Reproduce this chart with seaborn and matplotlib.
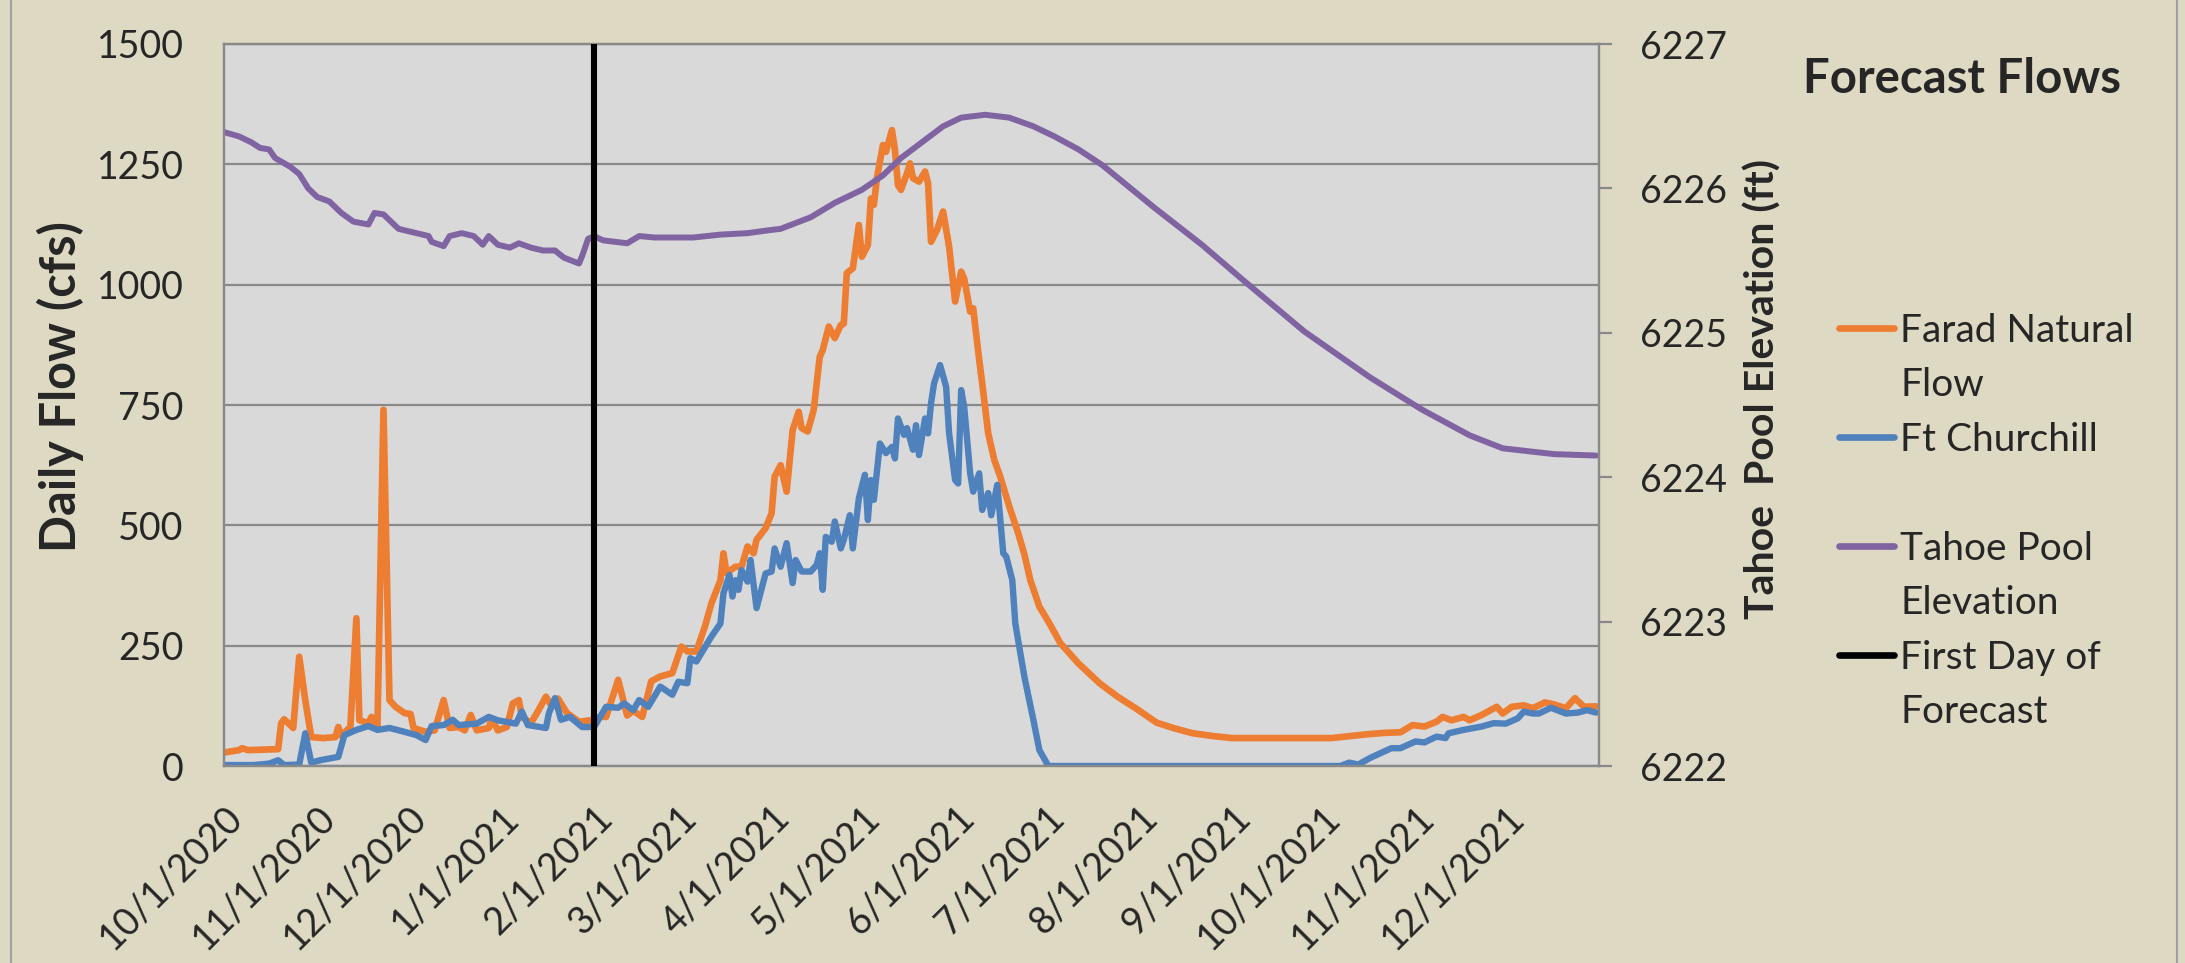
import matplotlib
matplotlib.use("Agg")
import matplotlib.pyplot as plt
from matplotlib.lines import Line2D
import seaborn as sns
import pandas as pd

# ----------------------------
# Data (x = days after 10/1/2020)
# ----------------------------
start = "2020-10-01"

farad_days = [0, 5, 6, 8, 18, 19, 20, 23, 25, 27, 29, 33, 37, 38, 39, 42, 44, 45, 48, 49,
              51, 53, 55, 57, 60, 62, 63, 67, 70, 73, 75, 78, 80, 82, 84, 88, 89, 91, 94, 96,
              98, 99, 102, 104, 107, 109, 111, 113, 114, 118, 122, 125, 127, 131, 134, 136, 139, 142, 145, 149,
              152, 154, 157, 160, 162, 165, 166, 167, 170, 172, 174, 176, 177, 180, 182, 183, 185, 187, 189, 191,
              192, 194, 196, 198, 199, 201, 203, 205, 206, 207, 209, 211, 212, 214, 215, 216, 217, 219, 220, 222,
              223, 224, 225, 227, 228, 229, 231, 233, 234, 235, 237, 239, 241, 243, 245, 246, 248, 249, 251, 252,
              254, 256, 258, 261, 264, 266, 268, 271, 274, 278, 284, 291, 297, 303, 310, 316, 322, 329, 335, 348,
              368, 374, 380, 386, 391, 395, 399, 403, 405, 408, 412, 414, 418, 423, 425, 428, 432, 435, 439, 442,
              446, 449, 452, 456]
farad_cfs = [28, 33, 37, 33, 35, 89, 97, 79, 227, 137, 60, 58, 60, 81, 63, 81, 307, 95, 89, 102,
             81, 740, 137, 123, 110, 108, 79, 71, 74, 137, 79, 81, 74, 106, 74, 79, 99, 74, 81, 130,
             137, 102, 89, 110, 144, 123, 140, 120, 110, 92, 95, 102, 102, 179, 105, 115, 102, 176, 186, 193,
             248, 238, 238, 293, 338, 386, 442, 401, 414, 414, 456, 442, 470, 494, 525, 601, 625, 570, 698, 736,
             702, 695, 740, 850, 864, 913, 889, 916, 919, 1024, 1034, 1124, 1058, 1082, 1179, 1166, 1221, 1290, 1276, 1321,
             1280, 1207, 1197, 1231, 1252, 1221, 1214, 1235, 1211, 1089, 1114, 1152, 1079, 965, 1027, 1013, 944, 951, 844, 795,
             691, 636, 601, 539, 483, 440, 386, 331, 300, 255, 213, 172, 144, 120, 90, 78, 68, 62, 58, 58,
             58, 62, 66, 69, 70, 85, 82, 92, 102, 95, 102, 95, 106, 123, 109, 123, 126, 120, 132, 128,
             120, 141, 123, 124]

church_days = [0, 10, 15, 18, 20, 25, 27, 29, 32, 38, 40, 44, 48, 51, 55, 60, 64, 67, 69, 73,
               76, 78, 84, 88, 91, 97, 99, 101, 107, 108, 110, 112, 115, 119, 123, 127, 131, 133, 136, 138,
               141, 145, 149, 151, 154, 155, 157, 160, 162, 165, 166, 168, 169, 170, 171, 172, 174, 175, 177, 180,
               182, 183, 185, 187, 189, 190, 192, 195, 197, 198, 199, 200, 202, 203, 205, 206, 208, 209, 211, 213,
               214, 215, 216, 218, 220, 222, 223, 224, 226, 227, 229, 230, 231, 233, 234, 235, 236, 238, 240, 241,
               243, 244, 245, 246, 248, 249, 251, 252, 254, 255, 257, 259, 260, 262, 263, 266, 269, 271, 274, 371,
               374, 377, 381, 388, 391, 396, 399, 403, 406, 407, 412, 418, 422, 426, 430, 432, 435, 437, 441, 446,
               450, 453, 456]
church_cfs = [2, 2, 5, 12, 2, 3, 68, 7, 12, 19, 64, 75, 83, 75, 79, 71, 64, 54, 83, 85,
              96, 85, 88, 102, 95, 88, 113, 85, 79, 110, 141, 96, 102, 81, 81, 123, 121, 130, 116, 137,
              123, 165, 148, 175, 172, 224, 217, 248, 269, 296, 359, 397, 352, 386, 366, 407, 383, 428, 328, 400,
              404, 452, 414, 463, 380, 428, 404, 404, 418, 442, 366, 476, 466, 508, 452, 470, 521, 452, 556, 605,
              511, 594, 553, 670, 650, 663, 639, 722, 688, 702, 657, 708, 646, 722, 691, 754, 795, 833, 788, 691,
              594, 587, 781, 747, 608, 570, 608, 532, 567, 521, 584, 442, 435, 386, 296, 186, 96, 33, 0, 0,
              7, 3, 17, 37, 37, 51, 49, 61, 58, 68, 75, 82, 89, 88, 99, 113, 109, 109, 121, 109,
              111, 116, 111]

tahoe_days = [0, 5, 9, 12, 15, 17, 22, 25, 28, 31, 35, 39, 43, 48, 50, 53, 58, 64, 68, 69,
              73, 75, 79, 83, 86, 88, 91, 95, 98, 102, 106, 110, 113, 118, 119, 121, 123, 126, 130, 134,
              138, 143, 156, 165, 174, 181, 185, 195, 203, 212, 219, 225, 232, 239, 245, 253, 261, 269, 276, 284,
              292, 309, 325, 339, 359, 381, 398, 414, 425, 442, 456]
tahoe_ft = [6226.39, 6226.36, 6226.32, 6226.28, 6226.27, 6226.21, 6226.15, 6226.10, 6226.00, 6225.94,
            6225.91, 6225.83, 6225.77, 6225.75, 6225.83, 6225.82, 6225.72, 6225.69, 6225.67, 6225.63,
            6225.60, 6225.67, 6225.69, 6225.67, 6225.61, 6225.67, 6225.61, 6225.59, 6225.62, 6225.59,
            6225.57, 6225.57, 6225.52, 6225.48, 6225.53, 6225.65, 6225.67, 6225.64, 6225.63, 6225.62,
            6225.67, 6225.66, 6225.66, 6225.68, 6225.69, 6225.71, 6225.72, 6225.80, 6225.90, 6225.99,
            6226.09, 6226.21, 6226.32, 6226.43, 6226.49, 6226.51, 6226.49, 6226.43, 6226.36, 6226.27,
            6226.16, 6225.87, 6225.61, 6225.36, 6225.01, 6224.69, 6224.47, 6224.29, 6224.20, 6224.16,
            6224.15]

forecast_day = "2/1/2021"
tick_labels = ["10/1/2020", "11/1/2020", "12/1/2020", "1/1/2021", "2/1/2021", "3/1/2021",
               "4/1/2021", "5/1/2021", "6/1/2021", "7/1/2021", "8/1/2021", "9/1/2021",
               "10/1/2021", "11/1/2021", "12/1/2021"]
flow_ticks = [0, 250, 500, 750, 1000, 1250, 1500]
elev_ticks = [6222, 6223, 6224, 6225, 6226, 6227]

ORANGE = "#ED7D31"
BLUE = "#4F81BD"
PURPLE = "#8064A2"
GRID = "#898989"


def to_dates(days):
    return pd.Timestamp(start) + pd.to_timedelta(days, unit="D")


farad = pd.DataFrame({"date": to_dates(farad_days), "cfs": farad_cfs})
church = pd.DataFrame({"date": to_dates(church_days), "cfs": church_cfs})
tahoe = pd.DataFrame({"date": to_dates(tahoe_days), "ft": tahoe_ft})

sns.set_theme(style="white")
plt.rcParams["font.family"] = ["Lato", "DejaVu Sans"]

fig = plt.figure(figsize=(21.85, 9.63), dpi=100, facecolor="#DDD9C3")
ax = fig.add_axes([224 / 2185, 1 - 766 / 963, 1375 / 2185, 722 / 963])
ax.set_facecolor("#D9D9D9")

sns.lineplot(data=farad, x="date", y="cfs", ax=ax, color=ORANGE, linewidth=4.8)
sns.lineplot(data=church, x="date", y="cfs", ax=ax, color=BLUE, linewidth=4.6)

ax.set_ylim(0, 1500)
ax.set_yticks(flow_ticks)
ax.set_xlim(pd.Timestamp(start), pd.Timestamp("2022-01-01"))
tick_dates = pd.to_datetime(tick_labels, format="%m/%d/%Y")
ax.set_xticks(tick_dates)
ax.set_xticklabels(tick_labels, rotation=45, ha="right", rotation_mode="anchor")
ax.yaxis.grid(True, color=GRID, linewidth=1.6)
ax.set_axisbelow(True)
ax.tick_params(axis="y", length=0, pad=29, labelsize=27)
ax.tick_params(axis="x", length=0, pad=24, labelsize=27)
ax.set_xlabel("")
ax.set_ylabel("Daily Flow (cfs)", fontsize=35, fontweight="bold")
ax.yaxis.set_label_coords(-0.102, 0.526)
for s in ax.spines.values():
    s.set_color(GRID)
    s.set_linewidth(1.6)

# right axis: lake elevation
ax2 = ax.twinx()
sns.lineplot(data=tahoe, x="date", y="ft", ax=ax2, color=PURPLE, linewidth=4.3)
ax2.axvline(pd.to_datetime(forecast_day, format="%m/%d/%Y"), color="black", linewidth=4.4, zorder=5)
ax2.set_ylim(6222, 6227)
ax2.set_yticks(elev_ticks)
ax2.tick_params(axis="y", length=9.5, width=1.6, color=GRID, pad=20, labelsize=27)
ax2.set_ylabel("Tahoe  Pool Elevation (ft)", fontsize=29.5, fontweight="bold")
ax2.yaxis.set_label_coords(1.1055, 0.522)
for s in ax2.spines.values():
    s.set_color(GRID)
    s.set_linewidth(1.6)

# legend: one row per text line so every row is evenly spaced
none = Line2D([], [], color="none")
handles = [Line2D([], [], color=ORANGE, lw=4.8), none,
           Line2D([], [], color=BLUE, lw=4.8), none,
           Line2D([], [], color=PURPLE, lw=4.8), none,
           Line2D([], [], color="black", lw=4.8), none]
labels = ["Farad Natural", "Flow", "Ft Churchill", " ",
          "Tahoe Pool", "Elevation", "First Day of", "Forecast"]
fig.legend(handles, labels, loc="upper left", bbox_to_anchor=(1839 / 2185, 1 - 313 / 963),
           frameon=False, fontsize=28, handlelength=1.42, handletextpad=0.16,
           labelspacing=0.475, borderpad=0, borderaxespad=0)

fig.text(1962 / 2185, 1 - 79 / 963, "Forecast Flows", fontsize=34, fontweight="bold",
         ha="center", va="center")

# chart-area frame on the left and right edges
fig.add_artist(Line2D([11 / 2185, 11 / 2185], [0, 1], color="#A0A0A0", lw=1.5))
fig.add_artist(Line2D([2177 / 2185, 2177 / 2185], [0, 1], color="#A0A0A0", lw=1.5))

fig.savefig("out.png", dpi=100, facecolor=fig.get_facecolor())
